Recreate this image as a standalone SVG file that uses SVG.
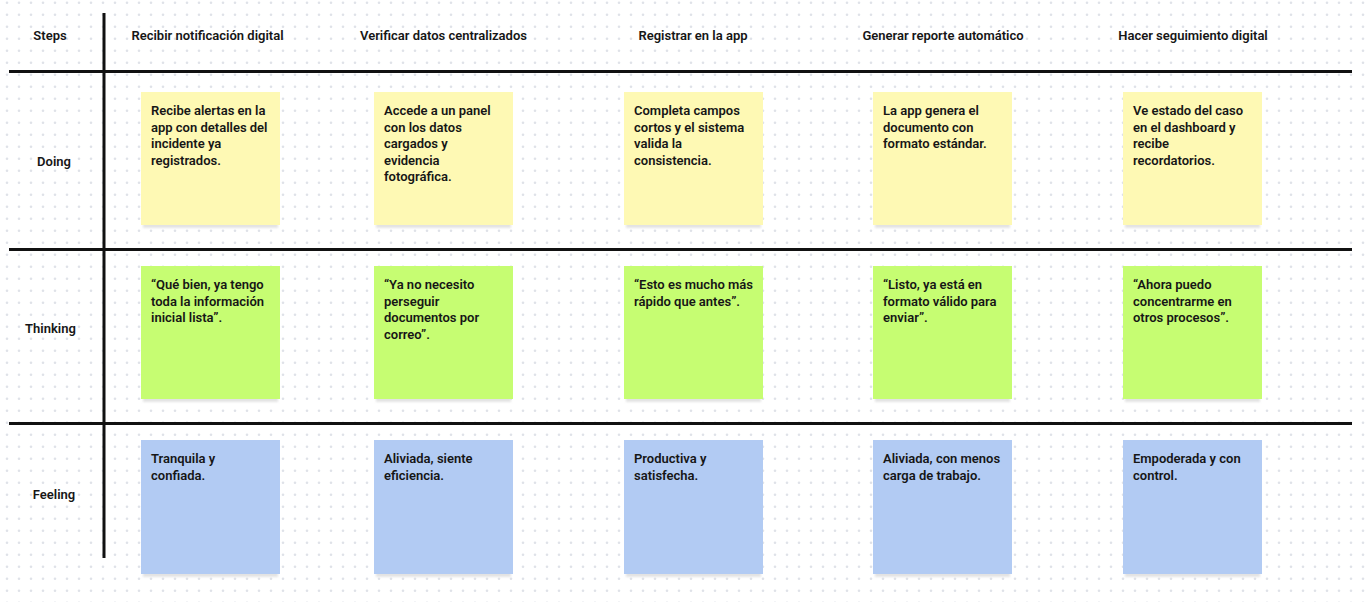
<svg xmlns="http://www.w3.org/2000/svg" width="1366" height="602" viewBox="0 0 1366 602">
<defs>
<pattern id="dots" x="0" y="0" width="12" height="12" patternUnits="userSpaceOnUse">
<circle cx="7" cy="2.8" r="1.3" fill="#dfe2e8"/>
</pattern>
<filter id="blur" x="-5%" y="-50%" width="110%" height="200%"><feGaussianBlur stdDeviation="1"/></filter>
</defs>
<style>
text{font-family:Roboto,"Liberation Sans",sans-serif;font-weight:600;font-size:13px;fill:#161616}
.hd{text-anchor:middle}
.shadow{fill:#e3e3e3;filter:url(#blur)}
.yellow{fill:#fef9b4}
.green{fill:#c6fd72}
.blue{fill:#b2cbf3}
.grid{stroke:#111;stroke-width:3;fill:none}
</style>
<rect width="1366" height="602" fill="#ffffff"/>
<rect width="1366" height="602" fill="url(#dots)"/>

<g id="connectors">
<line class="grid" x1="104" y1="13" x2="104" y2="558"/>
<line class="grid" x1="9" y1="71.5" x2="1352" y2="71.5"/>
<line class="grid" x1="9" y1="249.5" x2="1352" y2="249.5"/>
<line class="grid" x1="9" y1="423.5" x2="1352" y2="423.5"/>
</g>

<g id="headers">
<text class="hd" x="50" y="39.5">Steps</text>
<text class="hd" x="207.5" y="39.5">Recibir notificación digital</text>
<text class="hd" x="443.5" y="39.5">Verificar datos centralizados</text>
<text class="hd" x="693" y="39.5">Registrar en la app</text>
<text class="hd" x="943" y="39.5">Generar reporte automático</text>
<text class="hd" x="1193" y="39.5">Hacer seguimiento digital</text>
</g>

<g id="row-labels">
<text class="hd" x="54" y="165.5">Doing</text>
<text class="hd" x="50.5" y="332.5">Thinking</text>
<text class="hd" x="54" y="498.5">Feeling</text>
</g>

<!-- Doing -->
<g id="doing-1">
<rect class="shadow" x="143" y="222" width="135" height="6"/>
<rect class="yellow" x="141" y="92" width="139" height="133"/>
<text x="151" y="115">Recibe alertas en la</text>
<text x="151" y="131.5">app con detalles del</text>
<text x="151" y="148">incidente ya</text>
<text x="151" y="164.5">registrados.</text>
</g>
<g id="doing-2">
<rect class="shadow" x="376" y="222" width="135" height="6"/>
<rect class="yellow" x="374" y="92" width="139" height="133"/>
<text x="384" y="115">Accede a un panel</text>
<text x="384" y="131.5">con los datos</text>
<text x="384" y="148">cargados y</text>
<text x="384" y="164.5">evidencia</text>
<text x="384" y="181">fotográfica.</text>
</g>
<g id="doing-3">
<rect class="shadow" x="626" y="222" width="135" height="6"/>
<rect class="yellow" x="624" y="92" width="139" height="133"/>
<text x="634" y="115">Completa campos</text>
<text x="634" y="131.5">cortos y el sistema</text>
<text x="634" y="148">valida la</text>
<text x="634" y="164.5">consistencia.</text>
</g>
<g id="doing-4">
<rect class="shadow" x="875" y="222" width="135" height="6"/>
<rect class="yellow" x="873" y="92" width="139" height="133"/>
<text x="883" y="115">La app genera el</text>
<text x="883" y="131.5">documento con</text>
<text x="883" y="148">formato estándar.</text>
</g>
<g id="doing-5">
<rect class="shadow" x="1125" y="222" width="135" height="6"/>
<rect class="yellow" x="1123" y="92" width="139" height="133"/>
<text x="1133" y="115">Ve estado del caso</text>
<text x="1133" y="131.5">en el dashboard y</text>
<text x="1133" y="148">recibe</text>
<text x="1133" y="164.5">recordatorios.</text>
</g>

<!-- Thinking -->
<g id="thinking-1">
<rect class="shadow" x="143" y="396" width="135" height="6"/>
<rect class="green" x="141" y="266" width="139" height="133"/>
<text x="151" y="289">“Qué bien, ya tengo</text>
<text x="151" y="305.5">toda la información</text>
<text x="151" y="322">inicial lista”.</text>
</g>
<g id="thinking-2">
<rect class="shadow" x="376" y="396" width="135" height="6"/>
<rect class="green" x="374" y="266" width="139" height="133"/>
<text x="384" y="289">“Ya no necesito</text>
<text x="384" y="305.5">perseguir</text>
<text x="384" y="322">documentos por</text>
<text x="384" y="338.5">correo”.</text>
</g>
<g id="thinking-3">
<rect class="shadow" x="626" y="396" width="135" height="6"/>
<rect class="green" x="624" y="266" width="139" height="133"/>
<text x="634" y="289">“Esto es mucho más</text>
<text x="634" y="305.5">rápido que antes”.</text>
</g>
<g id="thinking-4">
<rect class="shadow" x="875" y="396" width="135" height="6"/>
<rect class="green" x="873" y="266" width="139" height="133"/>
<text x="883" y="289">“Listo, ya está en</text>
<text x="883" y="305.5">formato válido para</text>
<text x="883" y="322">enviar”.</text>
</g>
<g id="thinking-5">
<rect class="shadow" x="1125" y="396" width="135" height="6"/>
<rect class="green" x="1123" y="266" width="139" height="133"/>
<text x="1133" y="289">“Ahora puedo</text>
<text x="1133" y="305.5">concentrarme en</text>
<text x="1133" y="322">otros procesos”.</text>
</g>

<!-- Feeling -->
<g id="feeling-1">
<rect class="shadow" x="143" y="571" width="135" height="6"/>
<rect class="blue" x="141" y="440" width="139" height="134"/>
<text x="151" y="463">Tranquila y</text>
<text x="151" y="479.5">confiada.</text>
</g>
<g id="feeling-2">
<rect class="shadow" x="376" y="571" width="135" height="6"/>
<rect class="blue" x="374" y="440" width="139" height="134"/>
<text x="384" y="463">Aliviada, siente</text>
<text x="384" y="479.5">eficiencia.</text>
</g>
<g id="feeling-3">
<rect class="shadow" x="626" y="571" width="135" height="6"/>
<rect class="blue" x="624" y="440" width="139" height="134"/>
<text x="634" y="463">Productiva y</text>
<text x="634" y="479.5">satisfecha.</text>
</g>
<g id="feeling-4">
<rect class="shadow" x="875" y="571" width="135" height="6"/>
<rect class="blue" x="873" y="440" width="139" height="134"/>
<text x="883" y="463">Aliviada, con menos</text>
<text x="883" y="479.5">carga de trabajo.</text>
</g>
<g id="feeling-5">
<rect class="shadow" x="1125" y="571" width="135" height="6"/>
<rect class="blue" x="1123" y="440" width="139" height="134"/>
<text x="1133" y="463">Empoderada y con</text>
<text x="1133" y="479.5">control.</text>
</g>
</svg>
